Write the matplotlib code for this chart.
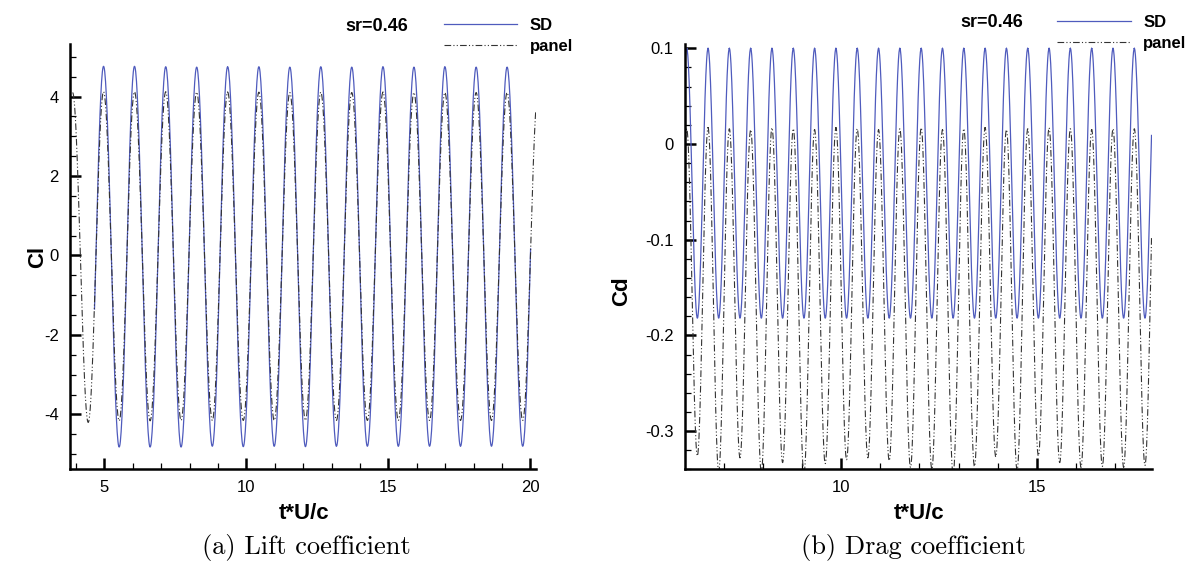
import numpy as np
import matplotlib
matplotlib.use('Agg')
import matplotlib.pyplot as plt
from matplotlib.ticker import MultipleLocator

plt.rcParams['font.family'] = ['Liberation Sans', 'DejaVu Sans']
plt.rcParams['axes.unicode_minus'] = False

# turning points (peaks / troughs)
lift_t = [3.88, 4.43, 4.97, 5.52, 6.06, 6.61, 7.16, 7.70, 8.25, 8.80, 9.34, 9.89,
          10.44, 10.98, 11.53, 12.08, 12.62, 13.17, 13.71, 14.26, 14.81, 15.35,
          15.90, 16.45, 16.99, 17.54, 18.09, 18.63, 19.18, 19.73, 20.27]
lift_sd_peak = [4.75, 4.76, 4.76, 4.75, 4.74, 4.75, 4.75, 4.74, 4.75, 4.74, 4.75,
                4.74, 4.75, 4.74, 4.74, 4.75]
lift_sd_trough = [-4.8, -4.82, -4.82, -4.82, -4.8, -4.81, -4.8, -4.81, -4.8, -4.8,
                  -4.8, -4.8, -4.8, -4.8, -4.8]
lift_pn_peak = [4.1, 4.12, 4.12, 4.12, 4.11, 4.11, 4.11, 4.1, 4.11, 4.1, 4.11,
                4.1, 4.1, 4.1, 4.1, 4.1]
lift_pn_trough = [-4.2, -4.16, -4.16, -4.15, -4.15, -4.15, -4.15, -4.15, -4.15,
                  -4.15, -4.15, -4.15, -4.15, -4.15, -4.15]
lift_sd_range = [4.65, 20.02]
lift_pn_range = [3.86, 20.2]

drag_t = [5.783, 6.055, 6.327, 6.600, 6.872, 7.144, 7.416, 7.689, 7.961, 8.233,
          8.505, 8.778, 9.050, 9.322, 9.594, 9.867, 10.139, 10.411, 10.683, 10.956,
          11.228, 11.500, 11.772, 12.045, 12.317, 12.589, 12.861, 13.134, 13.406,
          13.678, 13.950, 14.223, 14.495, 14.767, 15.039, 15.312, 15.584, 15.856,
          16.128, 16.401, 16.673, 16.945, 17.217, 17.490, 17.762, 18.034]
drag_sd_trough = [-0.182, -0.182, -0.182, -0.182, -0.182, -0.182, -0.182, -0.182,
                  -0.182, -0.182, -0.182, -0.182, -0.182, -0.182, -0.182, -0.182,
                  -0.182, -0.182, -0.182, -0.182, -0.182, -0.182, -0.182]
drag_sd_peak = [0.1, 0.1, 0.1, 0.1, 0.1, 0.1, 0.1, 0.1, 0.1, 0.1, 0.1, 0.1,
                0.1, 0.1, 0.1, 0.1, 0.1, 0.1, 0.1, 0.1, 0.1, 0.1, 0.1]
drag_pn_trough = [-0.33, -0.326, -0.342, -0.328, -0.343, -0.333, -0.345, -0.334,
                  -0.33, -0.328, -0.331, -0.338, -0.34, -0.345, -0.337, -0.327,
                  -0.341, -0.326, -0.333, -0.338, -0.337, -0.338, -0.336]
drag_pn_peak = [0.016, 0.017, 0.016, 0.015, 0.017, 0.016, 0.015, 0.017, 0.016,
                0.015, 0.016, 0.017, 0.015, 0.016, 0.017, 0.015, 0.016, 0.017,
                0.016, 0.015, 0.016, 0.016, 0.016]
drag_sd_range = [6.01, 17.93]
drag_pn_range = [6.02, 17.93]

SD_COLOR = '#4f5bbd'
PN_COLOR = '#333333'
PN_DASH = (6, 2, 1, 2, 1, 2)


def interleave(first, second):
    v = np.empty(len(first) + len(second))
    v[0::2] = first
    v[1::2] = second
    return v


def wave(tp, vp, rng, n=40):
    # smooth half-cosine between the turning points
    ts, vs = [], []
    s = np.linspace(0, 1, n)
    for i in range(len(tp) - 1):
        ts.append(tp[i] + (tp[i + 1] - tp[i]) * s)
        vs.append(vp[i] + (vp[i + 1] - vp[i]) * (1 - np.cos(np.pi * s)) / 2)
    t = np.concatenate(ts)
    v = np.concatenate(vs)
    m = (t >= rng[0]) & (t <= rng[1])
    return t[m], v[m]


fig = plt.figure(figsize=(11.91, 5.72), dpi=100)
ax1 = fig.add_axes([0.0588, 0.1795, 0.3913, 0.7435])
ax2 = fig.add_axes([0.5751, 0.1795, 0.3921, 0.7435])

t, v = wave(lift_t, interleave(lift_sd_peak, lift_sd_trough), lift_sd_range)
ax1.plot(t, v, color=SD_COLOR, lw=0.9, label='SD')
t, v = wave(lift_t, interleave(lift_pn_peak, lift_pn_trough), lift_pn_range)
ax1.plot(t, v, color=PN_COLOR, lw=0.8, dashes=PN_DASH, label='panel')

t, v = wave(drag_t, interleave(drag_sd_trough, drag_sd_peak), drag_sd_range)
ax2.plot(t, v, color=SD_COLOR, lw=0.9, label='SD')
t, v = wave(drag_t, interleave(drag_pn_trough, drag_pn_peak), drag_pn_range)
ax2.plot(t, v, color=PN_COLOR, lw=0.8, dashes=PN_DASH, label='panel')

ax1.set_xlim(3.79, 20.2)
ax1.set_ylim(-5.38, 5.32)
ax1.set_xticks([5, 10, 15, 20], labels=['5', '10', '15', '20'])
ax1.set_yticks([-4, -2, 0, 2, 4], labels=['-4', '-2', '0', '2', '4'])
ax1.xaxis.set_minor_locator(MultipleLocator(1))
ax1.yaxis.set_minor_locator(MultipleLocator(0.5))
ax1.set_ylabel('Cl', fontsize=16, fontweight='bold')
ax1.yaxis.set_label_coords(-0.047, 0.5)

ax2.set_xlim(6.01, 17.94)
ax2.set_ylim(-0.34, 0.1045)
ax2.set_xticks([10, 15], labels=['10', '15'])
ax2.set_yticks([-0.3, -0.2, -0.1, 0, 0.1], labels=['-0.3', '-0.2', '-0.1', '0', '0.1'])
ax2.xaxis.set_minor_locator(MultipleLocator(1))
ax2.yaxis.set_minor_locator(MultipleLocator(0.02))
ax2.set_ylabel('Cd', fontsize=16, fontweight='bold')
ax2.yaxis.set_label_coords(-0.113, 0.42)

for ax in (ax1, ax2):
    for side in ('top', 'right'):
        ax.spines[side].set_visible(False)
    for side in ('left', 'bottom'):
        ax.spines[side].set_linewidth(1.8)
    ax.tick_params(which='major', direction='in', length=8, width=1.8,
                   labelsize=12, pad=8)
    ax.tick_params(which='minor', direction='in', length=4, width=0.9)
    ax.set_xlabel('t*U/c', fontsize=16, fontweight='bold')
    ax.xaxis.set_label_coords(0.502, -0.079)

ax1.legend(loc='upper left', bbox_to_anchor=(0.360, 0.995), bbox_transform=fig.transFigure,
           frameon=False, handlelength=4.4, handletextpad=0.75, labelspacing=0.35,
           prop={'weight': 'bold', 'size': 12})
ax2.legend(loc='upper left', bbox_to_anchor=(0.8751, 1.0), bbox_transform=fig.transFigure,
           frameon=False, handlelength=4.4, handletextpad=0.75, labelspacing=0.35,
           prop={'weight': 'bold', 'size': 12})
fig.text(0.29, 0.953, 'sr=0.46', fontsize=13, fontweight='bold', ha='left', va='center')
fig.text(0.806, 0.96, 'sr=0.46', fontsize=13, fontweight='bold', ha='left', va='center')

fig.text(0.257, 0.042, '(a) Lift coefficient', family='cmr10', fontsize=19,
         ha='center', va='center')
fig.text(0.767, 0.042, '(b) Drag coefficient', family='cmr10', fontsize=19,
         ha='center', va='center')

fig.savefig('out.png', dpi=100)
